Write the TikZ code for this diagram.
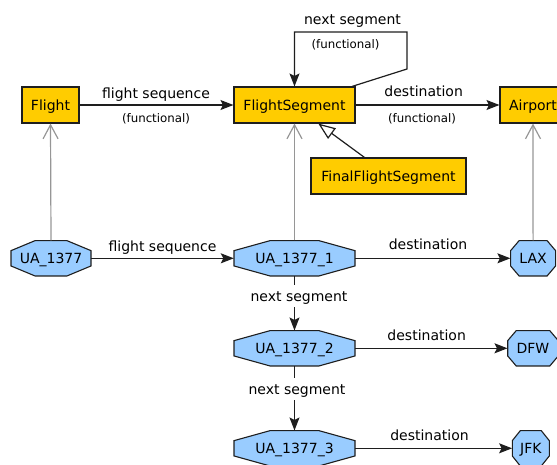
\documentclass[tikz,border=0pt]{standalone}
\usepackage{fontspec}
\setmainfont{DejaVu Sans}
\usetikzlibrary{arrows.meta}
\definecolor{clsfill}{RGB}{255,204,0}
\definecolor{instfill}{RGB}{153,204,255}
\definecolor{edgegray}{RGB}{150,150,150}
\definecolor{bordc}{RGB}{30,30,30}
\tikzset{
 cls/.style={draw=bordc, fill=clsfill, line width=1.1pt, minimum height=36pt, inner sep=0pt, text height=10pt, text depth=0pt, font=\fontsize{14}{16}\selectfont},
 inst/.style={inner sep=0pt, text height=10pt, text depth=0pt, font=\fontsize{14}{16}\selectfont},
 octa/.style={draw=bordc, fill=instfill, line width=1.1pt, line join=miter},
 lbl/.style={anchor=base, inner sep=1pt, font=\fontsize{14}{16}\selectfont},
 small/.style={anchor=base, inner sep=1pt, font=\fontsize{11.8}{14}\selectfont},
 gaplbl/.style={lbl, fill=white, inner ysep=0pt, text height=16pt, text depth=5.5pt},
 rel/.style={draw=bordc, line width=1.2pt, -{Stealth[length=13pt,width=10pt,inset=2.5pt]}},
 isa/.style={draw=edgegray, line width=1.2pt, -{Straight Barb[length=14pt,width=15pt]}},
 sub/.style={draw=bordc, line width=1.2pt, -{Triangle[open,length=17pt,width=13pt,fill=white]}},
}
\newcommand\octnode[8]{%
 \path[octa] ({#2-#4/2+#6},{#3-#5/2}) -- ++({#4-2*#6},0) -- ++(#6,#7) -- ++(0,{#5-2*#7}) -- ++(-#6,#7) -- ++({-(#4-2*#6)},0) -- ++(-#6,-#7) -- ++(0,{-(#5-2*#7)}) -- cycle;
 \node[inst, minimum width=#4pt, minimum height=#5pt] (#1) at (#2,#3) {#8};}
\begin{document}
\begin{tikzpicture}[x=1pt,y=-1pt]
\useasboundingbox (0,0) rectangle (557,464);
\clip (0,0) rectangle (557,464);
% classes
\node[cls, minimum width=57pt] (flight) at (50.5,105) {Flight};
\node[cls, minimum width=121pt] (fseg) at (294.5,105) {FlightSegment};
\node[cls, minimum width=66pt] (airport) at (533,105) {Airport};
\node[cls, minimum width=155pt] (final) at (388.5,176) {FinalFlightSegment};
% instances
\octnode{ua}{51}{258.3}{80}{35.3}{24}{10}{UA\_1377}
\octnode{u1}{294.5}{258.3}{121}{35.3}{36}{10}{UA\_1377\_1}
\octnode{u2}{294.5}{348.3}{121}{35.3}{36}{10}{UA\_1377\_2}
\octnode{u3}{294.5}{448.3}{121}{35.3}{36}{10}{UA\_1377\_3}
\octnode{lax}{533.1}{258.3}{45}{35.3}{8.5}{10}{LAX}
\octnode{dfw}{533}{348.3}{50.6}{35.3}{8.5}{10}{DFW}
\octnode{jfk}{530.8}{448.3}{37}{35.3}{8}{10}{JFK}
% class relations
\draw[rel] (flight.east) -- (fseg.west);
\node[lbl] (l1) at (156,98.3) {flight sequence};
\node[small] (l1f) at (156,122.3) {(functional)};
\draw[rel] (fseg.east) -- (airport.west);
\node[lbl] (l2) at (423.7,96.3) {destination};
\node[small] (l2f) at (422,122.5) {(functional)};
\coordinate (lp1) at (407,69);
\coordinate (lp2) at (407,32);
\draw[rel] ([xshift=57.5pt]fseg.north) -- (lp1) -- (lp2) -- (fseg.north |- lp2) -- (fseg.north);
\node[lbl] (l3) at (352.5,24) {next segment};
\node[small] (l3f) at (345.5,48.7) {(functional)};
\draw[sub] ([xshift=-24pt]final.north) -- ([xshift=23.8pt]fseg.south);
% instance-of
\draw[isa] (ua.north) -- (flight.south);
\draw[isa] (u1.north) -- (fseg.south);
\draw[isa] (lax.north) -- (airport.south);
% instance relations
\draw[rel] (ua.east) -- (u1.west);
\node[lbl] (i1) at (162.5,251.7) {flight sequence};
\draw[rel] (u1.east) -- (lax.west);
\node[lbl] (i2) at (428,249.3) {destination};
\draw[rel] (u2.east) -- (dfw.west);
\node[lbl] (i3) at (426.7,340) {destination};
\draw[rel] (u3.east) -- (jfk.west);
\node[lbl] (i4) at (429.5,440) {destination};
\draw[rel] (u1.south) -- (u2.north);
\node[gaplbl] (i5) at (299,301.3) {next segment};
\draw[rel] (u2.south) -- (u3.north);
\node[gaplbl] (i6) at (297,394) {next segment};
\end{tikzpicture}
\end{document}
